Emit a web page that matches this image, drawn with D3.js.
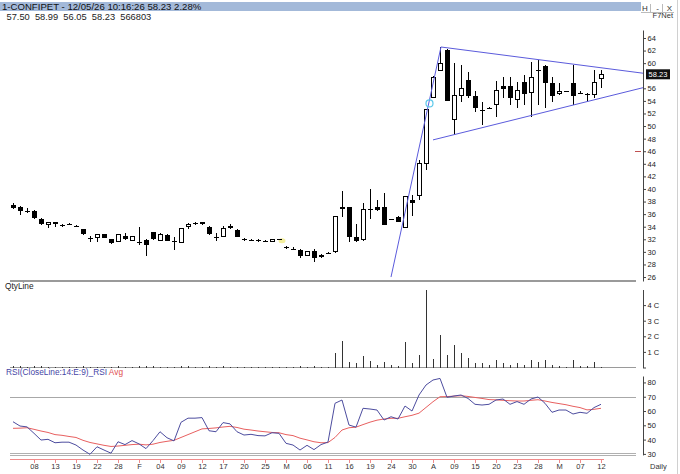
<!DOCTYPE html>
<html><head><meta charset="utf-8">
<script src="https://cdn.jsdelivr.net/npm/d3@7"></script>
<style>
body{margin:0;background:#fff;}
svg{display:block;font-family:"Liberation Sans",Arial,sans-serif;}
</style></head><body>
<svg id="c" width="680" height="474"></svg>
<script>
// ---- data ----
const dates = ["01-05","01-06","01-07","01-08","01-09","01-12","01-13","01-14","01-16","01-19","01-20","01-21","01-22","01-23","01-27","01-28","01-29","01-30",
"02-01","02-02","02-03","02-04","02-05","02-06","02-09","02-10","02-11","02-12","02-13","02-16","02-17","02-18","02-19","02-20","02-23","02-24","02-25","02-26","02-27",
"03-02","03-04","03-05","03-06","03-09","03-10","03-11","03-12","03-13","03-16","03-17","03-18","03-19","03-20","03-23","03-24","03-25","03-27","03-30",
"04-01","04-02","04-06","04-07","04-08","04-09","04-10","04-13","04-15","04-16","04-17","04-20","04-21","04-22","04-23","04-24","04-27","04-28","04-29","04-30",
"05-04","05-05","05-06","05-07","05-08","05-11","05-12"];
const tickLabels = ["08","13","19","22","28","F","04","09","12","17","20","25","M","06","11","16","19","24","30","A","09","15","20","23","28","M","07","12"];
const open = [37.5,37.1,36.45,36.5,35.3,34.4,34.7,34.25,34.35,34.2,33.6,32.2,32.3,32.8,32.0,31.7,32.5,31.8,31.6,31.9,33.1,31.8,32.7,31.7,31.5,34.0,34.5,34.7,34.0,32.3,32.4,33.8,33.5,32.0,31.9,31.8,31.7,31.7,32.05,30.8,30.5,30.3,29.5,30.2,29.2,29.8,30.0,37.2,37.1,32.4,31.9,36.8,37.2,37.2,35.15,35.6,33.9,38.2,39.0,44.1,54.6,58.9,62.1,51.0,54.9,57.3,54.8,52.5,53.0,53.5,56.3,56.3,54.3,57.05,55.3,58.85,59.55,56.8,55.2,55.5,56.8,55.35,55.15,55.05,57.5];
const high = [37.7,37.3,36.9,36.6,35.4,34.8,34.8,34.5,34.6,34.3,33.7,32.6,32.9,32.9,32.1,32.8,33.0,32.6,33.9,32.0,33.2,33.0,32.8,32.3,33.8,34.6,34.8,34.8,34.1,33.0,34.1,34.5,33.6,32.2,32.1,32.0,31.9,32.0,32.1,31.0,30.7,30.4,30.1,30.4,29.6,30.0,35.7,39.7,37.2,34.5,37.8,40.0,38.2,39.3,35.3,35.7,38.9,39.0,44.6,52.7,57.9,62.6,62.3,60.0,59.7,58.6,55.5,53.9,53.1,57.1,57.8,57.8,57.05,58.1,60.2,60.5,59.7,57.85,56.8,55.6,59.7,55.5,55.3,58.9,58.99];
const low = [36.8,35.8,36.2,35.3,34.3,33.8,33.9,34.0,34.2,34.0,32.7,31.6,31.6,32.2,31.3,31.6,31.9,31.7,31.1,29.3,31.9,31.7,31.7,30.3,31.4,33.6,34.3,34.3,32.7,31.8,32.3,33.6,32.3,31.8,31.7,31.6,31.5,31.6,31.9,30.4,30.3,29.0,29.3,28.4,29.0,29.6,29.8,35.6,31.5,31.5,31.8,35.2,36.5,34.2,35.1,34.7,33.8,35.7,38.2,43.0,54.5,58.7,54.0,48.6,53.9,54.4,52.3,50.2,52.8,51.5,54.4,53.35,52.8,53.35,51.5,53.35,52.8,53.9,54.9,55.4,53.3,55.1,53.9,54.4,56.05];
const close = [37.0,36.5,36.55,35.4,34.5,34.6,34.4,34.35,34.45,34.05,32.8,32.3,32.8,32.25,31.4,32.7,32.0,32.5,31.65,31.1,32.0,32.8,31.8,31.6,33.7,34.4,34.6,34.4,32.8,32.4,33.7,34.1,32.4,32.0,31.95,31.85,31.75,31.9,31.95,30.7,30.5,29.4,30.0,29.1,29.4,29.85,35.6,36.8,32.4,31.8,36.8,36.85,36.6,34.3,35.25,34.8,38.8,37.7,44.1,52.6,57.75,59.98,54.0,54.9,56.0,54.8,52.8,52.6,52.9,55.7,55.9,54.4,55.7,55.05,57.75,58.95,56.9,54.8,55.5,55.5,54.7,55.25,55.05,56.93,58.23];
const volumeCr = [0.09,0.07,0.05,0.08,0.10,0.06,0.05,0.04,0.04,0.05,0.08,0.06,0.05,0.05,0.06,0.07,0.05,0.05,0.09,0.10,0.07,0.06,0.05,0.06,0.12,0.08,0.05,0.04,0.07,0.05,0.08,0.05,0.06,0.04,0.03,0.03,0.03,0.04,0.04,0.06,0.04,0.07,0.05,0.08,0.05,0.04,
0.96,1.67,0.38,0.28,0.71,0.43,0.17,0.38,0.13,0.11,1.65,0.32,0.79,4.98,0.56,2.09,0.83,1.43,0.92,0.64,0.28,0.32,0.13,0.47,0.32,0.15,0.28,0.15,0.47,0.38,0.47,0.19,0.11,0.06,0.49,0.11,0.11,0.36,0.057];
const rsi = [52.5,49.5,48.9,44.4,39.7,40.2,37.8,38.2,38.2,36.2,32.7,29.7,35.0,32.7,30.5,38.5,36.5,39.3,37.0,33.7,39.3,45.5,41.3,39.1,52.1,55.0,55.0,55.4,46.2,45.5,51.9,51.0,45.5,43.2,43.7,42.8,42.6,44.8,44.4,37.4,36.2,32.7,36.0,33.0,36.5,38.3,65.4,67.7,
50.2,48.7,61.9,61.4,60.7,53.7,56.0,54.4,63.5,60.0,71.2,78.2,81.7,82.8,69.6,70.5,71.2,68.8,64.7,64.2,64.7,67.7,68.4,64.7,66.6,64.7,68.4,69.8,65.4,59.1,60.7,60.7,57.9,59.1,58.4,62.4,64.7];
const rsiAvg = [47.9,48.0,48.3,47.2,46.0,45.0,43.5,43.0,42.2,41.5,39.5,38.0,37.0,36.0,35.2,35.5,36.0,36.5,36.8,36.3,36.8,38.0,38.8,39.5,41.5,43.5,45.5,47.5,47.8,48.2,48.8,49.3,48.5,47.3,46.7,46.0,45.5,45.0,44.8,43.5,42.8,41.0,39.8,38.5,37.8,37.9,41.5,46.7,48.3,48.7,50.5,52.2,53.6,54.4,54.9,54.9,56.0,57.0,58.5,62.5,66.5,70.0,70.1,70.4,70.7,70.2,69.5,68.8,68.0,67.8,67.5,67.2,67.0,67.0,67.5,67.9,67.0,66.0,65.2,64.4,63.3,62.4,60.8,61.2,61.9];
const priceTicks = [26,28,30,32,34,36,38,40,42,44,46,48,50,52,54,56,60,62,64];
const volTicks = [0, 1, 2, 3, 4];
const rsiTicks = [30, 40, 50, 60, 70, 80];
// trendlines as [index, price]
const trendUp = [[54, 26.0], [61.14, 62.57]];
const trendTop = [[61.14, 62.57], [90, 58.4]];
const trendBottom = [[60, 47.8], [90, 56.1]];
const header = "1-CONFIPET - 12/05/26 10:16:26 58.23 2.28%";
const ohlcLine = ["57.50", "58.99", "56.05", "58.23", "566803"];
const lastPrice = 58.23;

// ---- scales ----
const svg = d3.select("#c");
const n = dates.length;
const x = d3.scaleLinear().domain([0, n - 1]).range([13, 601]);
const yP = d3.scaleLinear().domain([25.37, 65.27]).range([281, 30]);
const yV = d3.scaleLinear().domain([0, 5]).range([367.5, 289.5]);
const yR = d3.scaleLinear().domain([29.3, 84.5]).range([454.9, 376]);
const AX = 643;
const fs = "7.5px";

// ---- header ----
svg.append("rect").attr("x", 0).attr("y", 2).attr("width", 641).attr("height", 9).attr("fill", "#a3b9d9");
svg.append("text").attr("x", 2).attr("y", 9.6).attr("font-size", "9.6px").attr("fill", "#111").text(header);
svg.append("text").attr("x", 6.5).attr("y", 20).attr("font-size", "9.3px").attr("fill", "#222")
  .style("white-space", "pre").text(ohlcLine.join("  "));
[["H", 645], ["-", 657.5], ["X", 669.5]].forEach(([t, px]) => {
  svg.append("text").attr("x", px).attr("y", 10.5).attr("font-size", "8px").attr("text-anchor", "middle").attr("fill", "#333").text(t);
});
svg.append("line").attr("x1", 641).attr("x2", 674).attr("y1", 12.5).attr("y2", 12.5).attr("stroke", "#bbb");
[650.5, 662.5].forEach(px => svg.append("line").attr("x1", px).attr("x2", px).attr("y1", 4).attr("y2", 12).attr("stroke", "#bbb"));
svg.append("text").attr("x", 673).attr("y", 18).attr("font-size", "7.5px").attr("text-anchor", "end").attr("fill", "#333").text("F7Net");
svg.append("line").attr("x1", 677.5).attr("x2", 677.5).attr("y1", 0).attr("y2", 474).attr("stroke", "#d0d0d0");

// ---- panel lines ----
const gl = svg.append("g").attr("shape-rendering", "crispEdges");
gl.append("line").attr("x1", 10).attr("x2", 636).attr("y1", 281).attr("y2", 281).attr("stroke", "#9a9a9a").attr("stroke-width", 1.5);
gl.append("line").attr("x1", 10).attr("x2", 636).attr("y1", 367.5).attr("y2", 367.5).attr("stroke", "#9a9a9a");
gl.append("line").attr("x1", 10).attr("x2", 636).attr("y1", Math.round(yR(70)) + 0.5).attr("y2", Math.round(yR(70)) + 0.5).attr("stroke", "#a8a8a8");
gl.append("line").attr("x1", 10).attr("x2", 636).attr("y1", 453.5).attr("y2", 453.5).attr("stroke", "#b0b0b0");
gl.append("line").attr("x1", 10).attr("x2", 636).attr("y1", 455.5).attr("y2", 455.5).attr("stroke", "#b0b0b0");

// ---- markers behind candles ----
svg.append("ellipse").attr("cx", x(38) + 3).attr("cy", yP(31.75)).attr("rx", 3.5).attr("ry", 2.5).attr("fill", "#f2ec8c").attr("opacity", 0.85);

// ---- candles ----
const gc = svg.append("g").attr("shape-rendering", "crispEdges");
d3.range(n).forEach(i => {
  const cx = Math.round(x(i));
  gc.append("line").attr("x1", cx + 0.5).attr("x2", cx + 0.5).attr("y1", yP(high[i])).attr("y2", yP(low[i])).attr("stroke", "#000");
  const top = yP(Math.max(open[i], close[i])), bot = yP(Math.min(open[i], close[i]));
  if (bot - top < 1.2) {
    const yy = Math.round((top + bot) / 2) + 0.5;
    gc.append("line").attr("x1", cx - 2).attr("x2", cx + 3).attr("y1", yy).attr("y2", yy).attr("stroke", "#000");
  } else if (close[i] >= open[i]) {
    gc.append("rect").attr("x", cx - 1.5).attr("y", top).attr("width", 4).attr("height", bot - top)
      .attr("fill", "#fff").attr("stroke", "#000");
  } else {
    gc.append("rect").attr("x", cx - 2).attr("y", top).attr("width", 5).attr("height", bot - top).attr("fill", "#000");
  }
});

// ---- trendlines ----
const tl = d3.line().x(d => x(d[0])).y(d => yP(d[1]));
[trendUp, trendTop, trendBottom].forEach(t => {
  svg.append("path").attr("d", tl(t)).attr("fill", "none").attr("stroke", "#5b5bdc").attr("stroke-width", 1);
});
svg.append("circle").attr("cx", x(59.5)).attr("cy", yP(53.6)).attr("r", 3.5).attr("fill", "none").attr("stroke", "#5cc8ea").attr("stroke-width", 1.2);
svg.append("line").attr("x1", 635).attr("x2", 641).attr("y1", Math.round(yP(46)) + 0.5).attr("y2", Math.round(yP(46)) + 0.5).attr("stroke", "#c05050");

// ---- price axis ----
const pa = svg.append("g").attr("transform", `translate(${AX},0)`)
  .call(d3.axisRight(yP).tickValues(priceTicks).tickFormat(d3.format("d")).tickSize(3).tickSizeOuter(0).tickPadding(1.5));
pa.selectAll("text").attr("font-size", fs).attr("font-family", "Liberation Sans, Arial, sans-serif").attr("fill", "#222");
pa.selectAll("line,path").attr("stroke", "#444");
const ly = yP(lastPrice);
svg.append("rect").attr("x", 646).attr("y", ly - 5).attr("width", 24).attr("height", 10).attr("fill", "#111");
svg.append("text").attr("x", 658).attr("y", ly + 3).attr("text-anchor", "middle").attr("font-size", fs).attr("fill", "#fff").text(lastPrice.toFixed(2));

// ---- qty panel ----
svg.append("text").attr("x", 5).attr("y", 289).attr("font-size", "8.3px").attr("fill", "#222").text("QtyLine");
const gv = svg.append("g").attr("shape-rendering", "crispEdges");
d3.range(n).forEach(i => {
  const cx = Math.round(x(i)) + 0.5;
  gv.append("line").attr("x1", cx).attr("x2", cx).attr("y1", yV(0)).attr("y2", Math.min(yV(0) - 1, yV(volumeCr[i]))).attr("stroke", "#333");
});
const va = svg.append("g").attr("transform", `translate(${AX},0)`)
  .call(d3.axisRight(yV).tickValues(volTicks).tickFormat(d => d ? d + " C" : "").tickSize(3).tickSizeOuter(0).tickPadding(1.5));
va.selectAll("text").attr("font-size", fs).attr("font-family", "Liberation Sans, Arial, sans-serif").attr("fill", "#222");
va.selectAll("line,path").attr("stroke", "#444");

// ---- RSI panel ----
const rl = svg.append("text").attr("x", 6).attr("y", 375).attr("font-size", "8.3px");
rl.append("tspan").attr("fill", "#4545a5").text("RSI(CloseLine:14:E:9)_RSI ");
rl.append("tspan").attr("fill", "#e05050").text("Avg");
const rline = d3.line().x((d, i) => x(i)).y(d => yR(d));
svg.append("path").attr("d", rline(rsiAvg)).attr("fill", "none").attr("stroke", "#e86060").attr("stroke-width", 1);
svg.append("path").attr("d", rline(rsi)).attr("fill", "none").attr("stroke", "#4d4d9f").attr("stroke-width", 1);
const ra = svg.append("g").attr("transform", `translate(${AX},0)`)
  .call(d3.axisRight(yR).tickValues(rsiTicks).tickSize(3).tickSizeOuter(0).tickPadding(1.5));
ra.selectAll("text").attr("font-size", fs).attr("font-family", "Liberation Sans, Arial, sans-serif").attr("fill", "#222");
ra.selectAll("line,path").attr("stroke", "#444");

// ---- x axis ----
const tickIdx = tickLabels.map((t, k) => 3 + 3 * k);
const gx = svg.append("g").attr("shape-rendering", "crispEdges");
gx.append("line").attr("x1", 10).attr("x2", 604).attr("y1", 459.5).attr("y2", 459.5).attr("stroke", "#f08a8a");
tickIdx.forEach((ti, k) => {
  const cx = Math.round(x(ti)) + 0.5;
  gx.append("line").attr("x1", cx).attr("x2", cx).attr("y1", 459.5).attr("y2", 462.5).attr("stroke", "#f08a8a");
  svg.append("text").attr("x", cx).attr("y", 469).attr("text-anchor", "middle").attr("font-size", fs).attr("fill", "#333").text(tickLabels[k]);
});
svg.append("text").attr("x", 650).attr("y", 469).attr("font-size", fs).attr("fill", "#333").text("Daily");
</script>
</body></html>
